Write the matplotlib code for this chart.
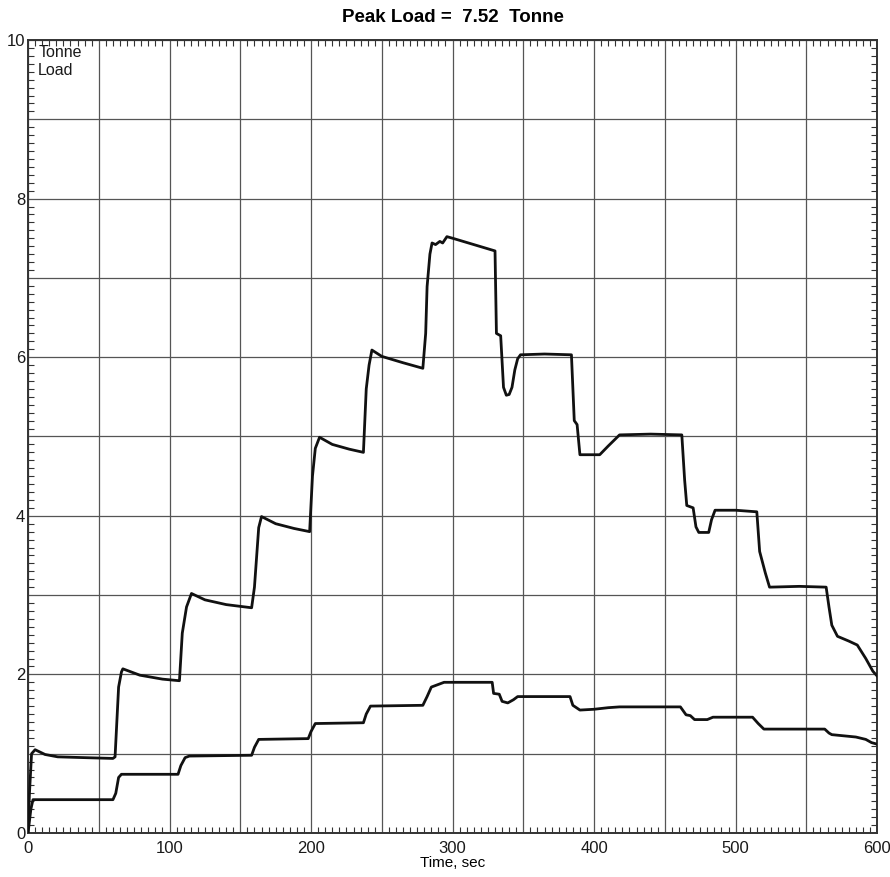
import matplotlib
matplotlib.use("Agg")
import matplotlib.pyplot as plt
from matplotlib.ticker import MultipleLocator, FuncFormatter

plt.rcParams["font.family"] = ["Liberation Sans", "DejaVu Sans"]

# Carga principal (tonne) frente a tiempo (s)
t_carga = [0, 1, 2.5, 5, 12, 21, 40, 60, 61.5, 64, 66, 67, 79, 95, 107,
           109, 112, 115.5, 125, 140, 158, 160, 163, 165, 175, 188, 199,
           201, 203, 206, 215, 227, 237, 239, 241, 243, 250, 265, 279,
           281, 282, 284, 285.5, 288, 291, 293, 296, 300, 315, 330,
           331, 334, 336, 338, 340, 342, 344, 346, 348, 365, 384,
           386, 388, 390, 404, 410, 418, 440, 462, 464, 465.5, 470,
           472, 474, 481, 483, 485.5, 500, 515, 517, 521, 524, 545,
           564, 566, 568, 572, 580, 586, 592, 597, 600]
carga = [0.0, 0.5, 1.0, 1.05, 0.99, 0.96, 0.95, 0.94, 0.96, 1.84, 2.03, 2.07,
         1.99, 1.94, 1.92, 2.52, 2.85, 3.02, 2.94, 2.88, 2.84, 3.1, 3.85,
         3.99, 3.90, 3.84, 3.80, 4.5, 4.85, 4.99, 4.90, 4.84, 4.80, 5.6,
         5.9, 6.09, 6.01, 5.93, 5.86, 6.3, 6.89, 7.3, 7.44, 7.42, 7.46,
         7.44, 7.52, 7.50, 7.42, 7.34, 6.30, 6.27, 5.62, 5.52, 5.53, 5.62,
         5.84, 5.98, 6.03, 6.04, 6.03, 5.2, 5.15, 4.77, 4.77, 4.88, 5.02,
         5.03, 5.02, 4.45, 4.13, 4.10, 3.86, 3.79, 3.79, 3.95, 4.07, 4.07,
         4.05, 3.55, 3.28, 3.10, 3.11, 3.10, 2.85, 2.62, 2.48, 2.42, 2.37,
         2.2, 2.04, 1.98]

# Curva inferior
t_inf = [0, 2, 3.5, 60, 62, 64, 66, 106, 108, 111, 114, 158, 160, 163, 198,
         200, 203, 237, 239, 242, 279, 282, 285, 291, 294, 328, 329, 333,
         335, 339, 343, 346, 383, 385, 390, 400, 410, 418, 461, 465, 468,
         471, 480, 484, 512, 516, 520, 563, 566, 568, 585, 592, 596, 600]
inf = [0.0, 0.3, 0.42, 0.42, 0.5, 0.7, 0.74, 0.74, 0.85, 0.95, 0.97, 0.98,
       1.08, 1.18, 1.19, 1.28, 1.38, 1.39, 1.5, 1.6, 1.61, 1.72, 1.84, 1.88,
       1.9, 1.9, 1.76, 1.75, 1.66, 1.64, 1.68, 1.72, 1.72, 1.61, 1.55, 1.56,
       1.58, 1.59, 1.59, 1.49, 1.48, 1.43, 1.43, 1.46, 1.46, 1.38, 1.31,
       1.31, 1.26, 1.24, 1.21, 1.18, 1.14, 1.12]

fig = plt.figure(figsize=(8.9, 8.77), dpi=100)
ax = fig.add_axes([0.0315, 0.0502, 0.954, 0.9042])

ax.plot(t_carga, carga, color="#111111", lw=2.0, solid_joinstyle="round", zorder=3)
ax.plot(t_inf, inf, color="#111111", lw=2.0, solid_joinstyle="round", zorder=3)

ax.set_xlim(0, 600)
ax.set_ylim(0, 10)

ax.xaxis.set_major_locator(MultipleLocator(50))
ax.xaxis.set_minor_locator(MultipleLocator(5))
ax.yaxis.set_major_locator(MultipleLocator(1))
ax.yaxis.set_minor_locator(MultipleLocator(0.1))
ax.xaxis.set_major_formatter(FuncFormatter(lambda v, p: f"{int(v)}" if int(round(v)) % 100 == 0 else ""))
ax.yaxis.set_major_formatter(FuncFormatter(lambda v, p: f"{int(v)}" if int(round(v)) % 2 == 0 else ""))

ax.tick_params(which="both", direction="in", top=True, right=True, colors="#333333")
ax.tick_params(which="major", length=0, labelsize=12, labelcolor="#1a1a1a")
ax.tick_params(axis="x", which="major", pad=6)
ax.tick_params(axis="y", which="major", pad=2)
ax.tick_params(which="minor", length=4, width=0.8)

ax.grid(True, which="major", color="#555555", lw=0.9)
for s in ax.spines.values():
    s.set_linewidth(1.4)
    s.set_color("#333333")

ax.set_title("Peak Load =  7.52  Tonne", fontsize=13.5, fontweight="bold", pad=13)
ax.set_xlabel("Time, sec", fontsize=11, labelpad=0)
ax.text(0.012, 0.994, "Tonne\nLoad", transform=ax.transAxes, fontsize=11.5,
        va="top", ha="left", linespacing=1.25, color="#1a1a1a")

fig.savefig("out.png", dpi=100)
